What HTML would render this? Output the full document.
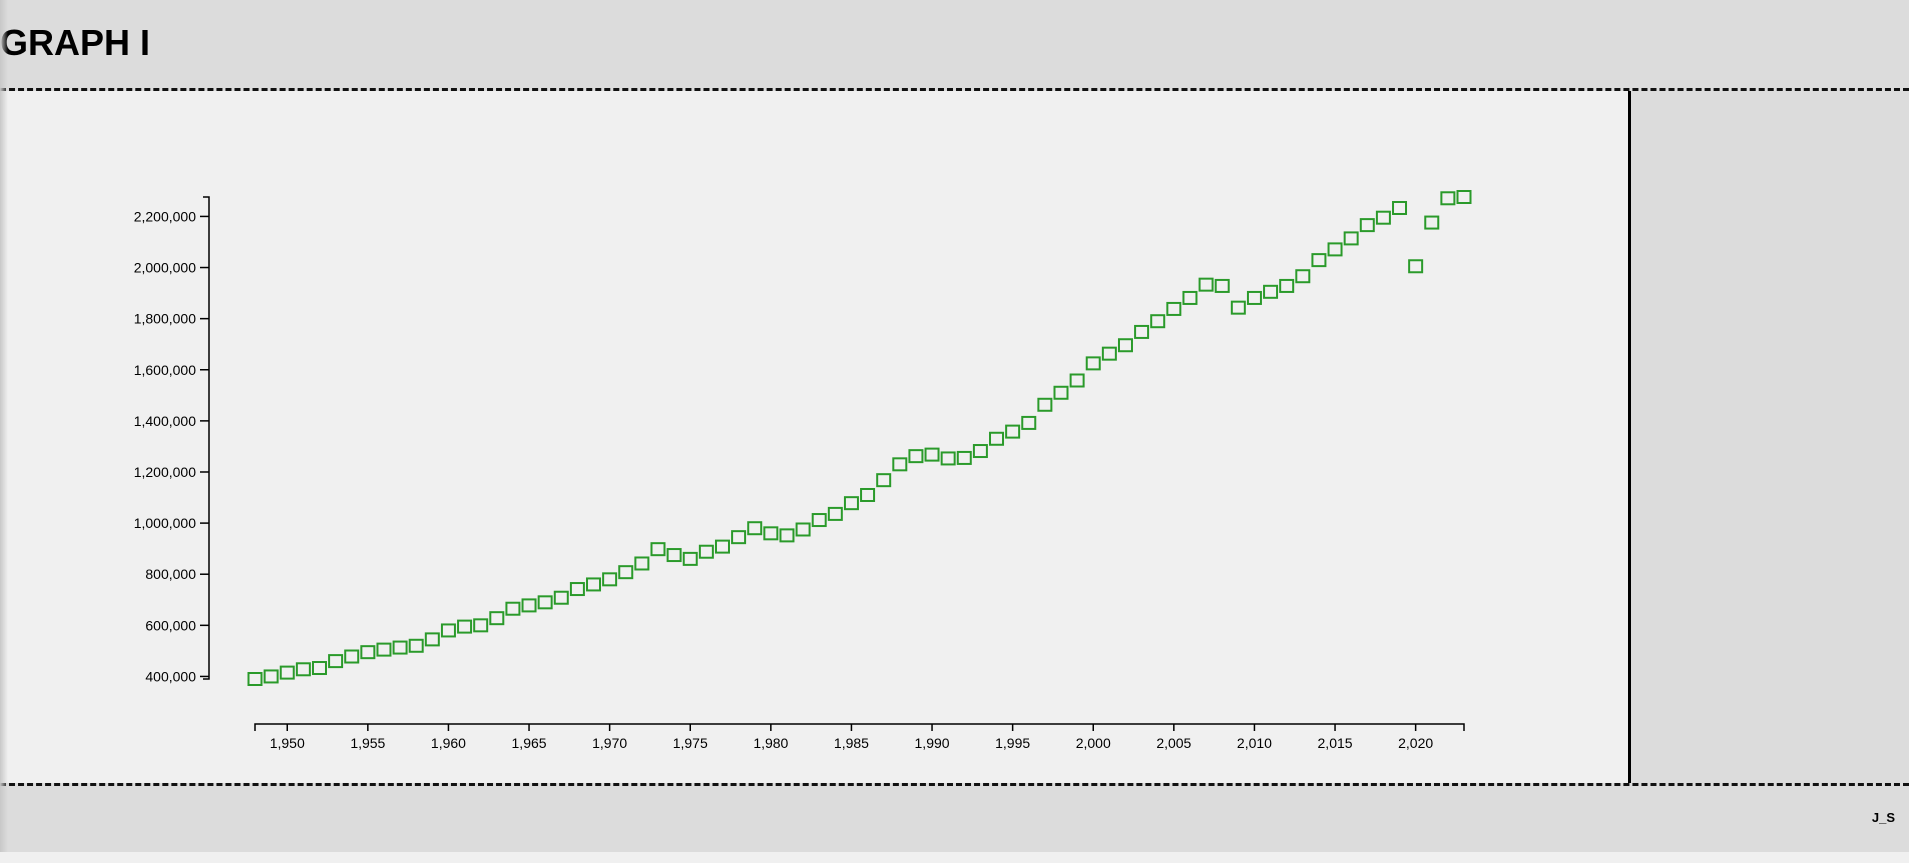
<!DOCTYPE html>
<html><head><meta charset="utf-8"><style>
html,body{margin:0;padding:0;width:1909px;height:863px;overflow:hidden;background:#f0f0f0;font-family:"Liberation Sans",Arial,sans-serif}
#header{position:absolute;left:0;top:0;width:1909px;height:88px;background:#dcdcdc}
#title{position:absolute;left:0;top:22px;font-size:36px;font-weight:bold;color:#000;margin:0}
#main{position:absolute;left:0;top:88px;width:1909px;height:698px;border-top:3px dashed #111;border-bottom:3px dashed #111;box-sizing:border-box;background:#dcdcdc}
#plot{position:absolute;left:0;top:0;width:1628px;height:692px;background:#f0f0f0;border-right:3px solid #000}
#footer{position:absolute;left:0;top:786px;width:1909px;height:66px;background:#dcdcdc}
#sig{position:absolute;right:14px;top:24px;font-size:13px;font-weight:bold}
#shadow{position:absolute;left:0;top:0;width:8px;height:852px;background:linear-gradient(to right,#c8c8c8,rgba(220,220,220,0))}
svg{position:absolute;left:0;top:0}
</style></head><body>
<div id="header"><h1 id="title">GRAPH I</h1></div>
<div id="main"><div id="plot"></div></div>
<div id="footer"><span id="sig">J_S</span></div>
<div id="shadow"></div>
<svg id="chart" width="1909" height="863"></svg>
<script>
const years=[];for(let y=1948;y<=2023;y++)years.push(y);
const values=[390000,400000,415000,428000,433000,460000,478000,495000,505000,513000,520000,545000,580000,595000,600000,628000,665000,678000,690000,708000,742000,760000,780000,808000,842000,898000,875000,860000,888000,908000,945000,980000,960000,952000,975000,1012000,1036000,1078000,1110000,1168000,1230000,1262000,1268000,1253000,1255000,1282000,1330000,1358000,1392000,1463000,1510000,1558000,1625000,1663000,1696000,1748000,1790000,1838000,1881000,1933000,1928000,1843000,1881000,1905000,1928000,1966000,2029000,2071000,2114000,2166000,2195000,2233000,2005000,2176000,2271000,2276000];
const yTicks=[400000,600000,800000,1000000,1200000,1400000,1600000,1800000,2000000,2200000];
const xTicks=[1950,1955,1960,1965,1970,1975,1980,1985,1990,1995,2000,2005,2010,2015,2020];
const NS="http://www.w3.org/2000/svg";
const svg=document.getElementById('chart');
const xMin=Math.min(...years),xMax=Math.max(...years);
const vMin=Math.min(...values),vMax=Math.max(...values);
const X0=255,X1=1464,Y0=679,Y1=197;
const x=v=>X0+(v-xMin)/(xMax-xMin)*(X1-X0);
const y=v=>Y0-(v-vMin)/(vMax-vMin)*(Y0-Y1);
function mk(t,a){const e=document.createElementNS(NS,t);for(const k in a)e.setAttribute(k,a[k]);svg.appendChild(e);return e;}
const fmt=n=>n.toLocaleString('en-US');
// y axis
const ya=mk('path',{d:`M203,${Y1}H209V${Y0}H203`,fill:'none',stroke:'#000','stroke-width':1.5});


yTicks.forEach(t=>{
 const l=mk('line',{x1:200,x2:209,y1:y(t),y2:y(t),stroke:'#000','stroke-width':1.5});
 
 
 const tx=mk('text',{x:196,y:y(t)+5,'text-anchor':'end','font-size':14,fill:'#000','font-family':'Liberation Sans, Arial, sans-serif'});
 tx.textContent=fmt(t);
 
 
});
// x axis
const xa=mk('path',{d:`M${X0},731V724H${X1}V731`,fill:'none',stroke:'#000','stroke-width':1.5});


xTicks.forEach(t=>{
 const l=mk('line',{x1:x(t),x2:x(t),y1:724,y2:731,stroke:'#000','stroke-width':1.5});
 
 
 const tx=mk('text',{x:x(t),y:748,'text-anchor':'middle','font-size':14,fill:'#000','font-family':'Liberation Sans, Arial, sans-serif'});
 tx.textContent=fmt(t);
 
 
});
// points
years.forEach((yr,i)=>{
 const r=mk('rect',{x:x(yr)-6.5,y:y(values[i])-6,width:13,height:12,fill:'none',stroke:'#2a9a2a','stroke-width':2});
 
 
});
</script>
</body></html>
